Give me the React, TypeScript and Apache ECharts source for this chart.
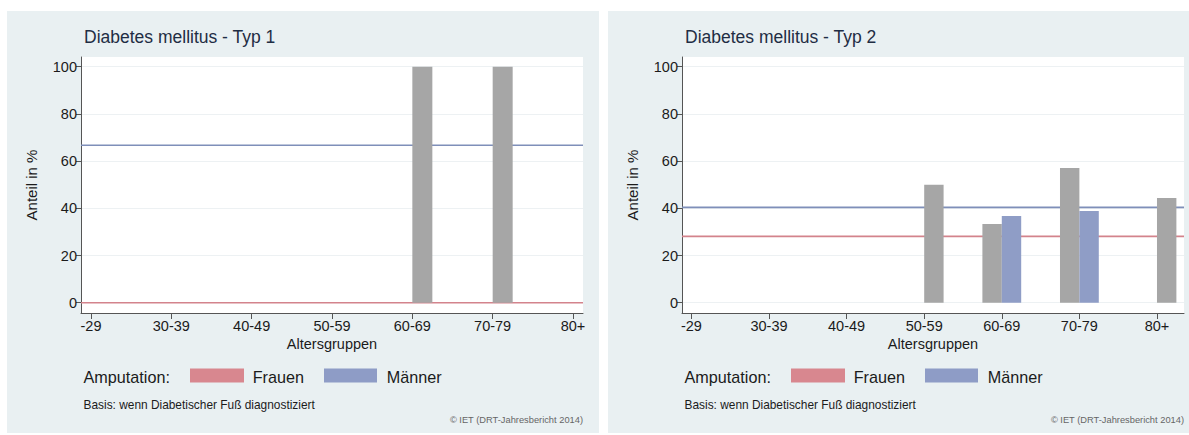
import React, { useEffect, useRef } from "react";
import * as echarts from "echarts";

// ---- data ----
const AGE_GROUPS = ["-29", "30-39", "40-49", "50-59", "60-69", "70-79", "80+"];
const Y_TICKS = [0, 20, 40, 60, 80, 100];

// Typ 1
const TYP1_GRAY_LEFT: (number | null)[] = [null, null, null, null, null, null, null];
const TYP1_GRAY_RIGHT: (number | null)[] = [null, null, null, null, 100, 100, null];
const TYP1_BLUE_RIGHT: (number | null)[] = [null, null, null, null, null, null, null];
const TYP1_FRAUEN = 0;
const TYP1_MAENNER = 66.7;

// Typ 2
const TYP2_GRAY_LEFT: (number | null)[] = [null, null, null, null, 33.3, 57.1, null];
const TYP2_GRAY_RIGHT: (number | null)[] = [null, null, null, 50, null, null, 44.4];
const TYP2_BLUE_RIGHT: (number | null)[] = [null, null, null, null, 36.7, 38.9, null];
const TYP2_FRAUEN = 28.1;
const TYP2_MAENNER = 40.4;

const TITLES = ["Diabetes mellitus - Typ 1", "Diabetes mellitus - Typ 2"];

// ---- styles ----
const FONT = "'Liberation Sans', Arial, Helvetica, sans-serif";
const PANEL_BG = "#e9f0f2";
const GRAY = "#a6a6a6";
const BLUE_BAR = "#8f9dc6";
const RED_LINE = "#d3838c";
const BLUE_LINE = "#7f8fb9";
const RED_SWATCH = "#d8878f";
const BLUE_SWATCH = "#8e9cc6";
const AXIS_COLOR = "#555555";
const TEXT = "#1b1b1b";
const TITLE_COLOR = "#1f2d44";

const Y_MIN = -4.36;
const Y_MAX = 104.1;
const HALF = 0.125;

type PanelCfg = {
  dx: number;
  gridLeft: number;
  xMin: number;
  xMax: number;
  barWidth: number;
  grayLeft: (number | null)[];
  grayRight: (number | null)[];
  blueRight: (number | null)[];
  frauen: number;
  maenner: number;
};

const PANELS: PanelCfg[] = [
  {
    dx: 0,
    gridLeft: 81,
    xMin: -0.1245,
    xMax: 6.125,
    barWidth: 20,
    grayLeft: TYP1_GRAY_LEFT,
    grayRight: TYP1_GRAY_RIGHT,
    blueRight: TYP1_BLUE_RIGHT,
    frauen: TYP1_FRAUEN,
    maenner: TYP1_MAENNER,
  },
  {
    dx: 601,
    gridLeft: 682,
    xMin: -0.121,
    xMax: 6.348,
    barWidth: 19.4,
    grayLeft: TYP2_GRAY_LEFT,
    grayRight: TYP2_GRAY_RIGHT,
    blueRight: TYP2_BLUE_RIGHT,
    frauen: TYP2_FRAUEN,
    maenner: TYP2_MAENNER,
  },
];

function barItems(p: PanelCfg) {
  const items: any[] = [];
  const add = (arr: (number | null)[], side: number, color: string) => {
    arr.forEach((v, i) => {
      if (v === null || v === undefined) return;
      items.push({ value: [i + side * HALF, v], itemStyle: { color } });
    });
  };
  add(p.grayLeft, -1, GRAY);
  add(p.grayRight, 1, GRAY);
  add(p.blueRight, 1, BLUE_BAR);
  return items;
}

function buildOption() {
  const grids: any[] = [];
  const xAxes: any[] = [];
  const yAxes: any[] = [];
  const series: any[] = [];
  const graphics: any[] = [];

  PANELS.forEach((p, k) => {
    grids.push({
      left: p.gridLeft,
      top: 57,
      width: 502,
      height: 256,
      show: true,
      backgroundColor: "#ffffff",
      borderWidth: 0,
    });
    xAxes.push({
      type: "value",
      gridIndex: k,
      min: p.xMin,
      max: p.xMax,
      axisLine: { show: true, onZero: false, lineStyle: { color: AXIS_COLOR, width: 1 } },
      axisTick: {
        show: true,
        length: 6,
        customValues: AGE_GROUPS.map((_, i) => i),
        lineStyle: { color: AXIS_COLOR },
      },
      axisLabel: {
        customValues: AGE_GROUPS.map((_, i) => i),
        formatter: (v: number) => AGE_GROUPS[Math.round(v)] ?? "",
        margin: 5,
        fontSize: 14.5,
        fontFamily: FONT,
        color: TEXT,
      },
      splitLine: { show: false },
    });
    yAxes.push({
      type: "value",
      gridIndex: k,
      min: Y_MIN,
      max: Y_MAX,
      axisLine: { show: true, onZero: false, lineStyle: { color: AXIS_COLOR, width: 1 } },
      axisTick: {
        show: true,
        length: 5,
        customValues: Y_TICKS,
        lineStyle: { color: AXIS_COLOR },
      },
      axisLabel: {
        customValues: Y_TICKS,
        margin: 4,
        fontSize: 14.5,
        fontFamily: FONT,
        color: TEXT,
      },
      splitLine: { show: true, lineStyle: { color: "#edf1f3", width: 1 } },
    });

    // reference lines (under bars)
    series.push({
      name: "Frauen",
      type: "line",
      xAxisIndex: k,
      yAxisIndex: k,
      data: [
        [p.xMin, p.frauen],
        [p.xMax, p.frauen],
      ],
      symbol: "none",
      silent: true,
      z: 2,
      lineStyle: { color: RED_LINE, width: 1.6 },
    });
    series.push({
      name: "Männer",
      type: "line",
      xAxisIndex: k,
      yAxisIndex: k,
      data: [
        [p.xMin, p.maenner],
        [p.xMax, p.maenner],
      ],
      symbol: "none",
      silent: true,
      z: 2,
      lineStyle: { color: BLUE_LINE, width: 1.6 },
    });
    series.push({
      name: "Anteil",
      type: "bar",
      xAxisIndex: k,
      yAxisIndex: k,
      barWidth: p.barWidth,
      z: 3,
      data: barItems(p),
    });

    const dx = p.dx;
    const textStyle = (extra: any) => ({ fontFamily: FONT, fill: TEXT, ...extra });

    graphics.push(
      {
        type: "rect",
        z: -100,
        shape: { x: 7 + dx, y: 11, width: k === 0 ? 592 : 600, height: 422 },
        style: { fill: PANEL_BG },
        silent: true,
      },
      {
        type: "text",
        x: 84 + dx,
        y: 37,
        style: textStyle({
          text: TITLES[k],
          fontSize: 17.5,
          fill: TITLE_COLOR,
          textAlign: "left",
          textVerticalAlign: "middle",
        }),
      },
      {
        type: "text",
        x: 31.7 + dx,
        y: 185,
        rotation: Math.PI / 2,
        style: textStyle({
          text: "Anteil in %",
          fontSize: 15,
          textAlign: "center",
          textVerticalAlign: "middle",
        }),
      },
      {
        type: "text",
        x: p.gridLeft + 251,
        y: 344,
        style: textStyle({
          text: "Altersgruppen",
          fontSize: 14.5,
          textAlign: "center",
          textVerticalAlign: "middle",
        }),
      },
      {
        type: "text",
        x: 83.5 + dx,
        y: 376.5,
        style: textStyle({
          text: "Amputation:",
          fontSize: 16.2,
          textAlign: "left",
          textVerticalAlign: "middle",
        }),
      },
      {
        type: "rect",
        shape: { x: 190 + dx, y: 368.5, width: 54, height: 14 },
        style: { fill: RED_SWATCH },
      },
      {
        type: "text",
        x: 252.7 + dx,
        y: 376.5,
        style: textStyle({
          text: "Frauen",
          fontSize: 16.2,
          textAlign: "left",
          textVerticalAlign: "middle",
        }),
      },
      {
        type: "rect",
        shape: { x: 324 + dx, y: 368.5, width: 53, height: 14 },
        style: { fill: BLUE_SWATCH },
      },
      {
        type: "text",
        x: 386.7 + dx,
        y: 376.5,
        style: textStyle({
          text: "Männer",
          fontSize: 16.2,
          textAlign: "left",
          textVerticalAlign: "middle",
        }),
      },
      {
        type: "text",
        x: 83.5 + dx,
        y: 405,
        style: textStyle({
          text: "Basis: wenn Diabetischer Fuß diagnostiziert",
          fontSize: 11.9,
          textAlign: "left",
          textVerticalAlign: "middle",
        }),
      },
      {
        type: "text",
        x: 583 + dx,
        y: 419.5,
        style: textStyle({
          text: "© IET (DRT-Jahresbericht 2014)",
          fontSize: 9.3,
          fill: "#666666",
          textAlign: "right",
          textVerticalAlign: "middle",
        }),
      }
    );
  });

  return {
    animation: false,
    backgroundColor: "#ffffff",
    textStyle: { fontFamily: FONT },
    grid: grids,
    xAxis: xAxes,
    yAxis: yAxes,
    series,
    graphic: { elements: graphics },
  };
}

export default function App() {
  const ref = useRef<HTMLDivElement | null>(null);
  useEffect(() => {
    if (!ref.current) return;
    const chart = echarts.init(ref.current, undefined, { renderer: "svg" });
    chart.setOption(buildOption() as any);
    return () => {
      chart.dispose();
    };
  }, []);
  return (
    <div
      ref={ref}
      style={{ position: "absolute", left: 0, top: 0, width: 1189, height: 435 }}
    />
  );
}
